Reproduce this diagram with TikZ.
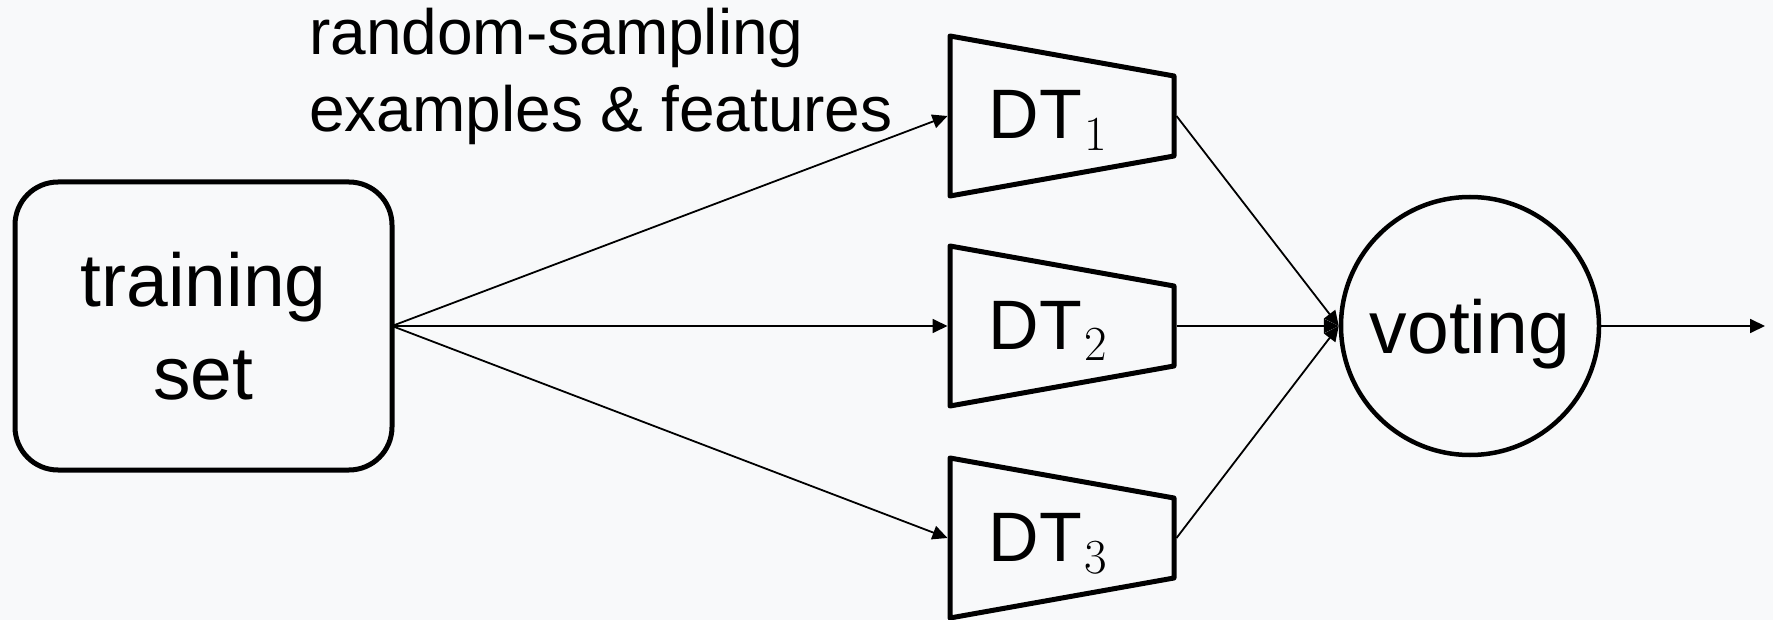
\documentclass[tikz,border=0pt]{standalone}
\usepackage{fontspec}
\setmainfont{Liberation Sans}
\newfontfamily\subdigits{Latin Modern Roman}
\usetikzlibrary{arrows.meta}
\definecolor{bgpaper}{RGB}{248,249,250}
% lowered serif index digit
\newcommand\treeindex[1]{\raisebox{-12pt}{\fontsize{49}{49}\selectfont\subdigits #1}}

\begin{document}
\begin{tikzpicture}[x=1pt,y=-1pt,
  bigtext/.style={font=\fontsize{75}{93}\selectfont},
  setbox/.style={draw, line width=5pt, rounded corners=43pt,
    minimum width=377pt, minimum height=288pt, inner sep=0pt, outer sep=0pt,
    align=center, bigtext},
  dtframe/.style={minimum width=224pt, minimum height=160pt,
    inner sep=0pt, outer sep=2.5pt},
  dtedge/.style={line width=5pt, line join=round},
  dtlabel/.style={font=\fontsize{70}{84}\selectfont, inner sep=0pt,
    text height=46pt, text depth=0pt},
  votenode/.style={draw, circle, line width=4.5pt, minimum size=258pt,
    inner sep=0pt, bigtext, text depth=0pt},
  notetext/.style={font=\fontsize{64}{77}\selectfont, align=left,
    inner sep=0pt, text depth=0pt},
  link/.style={line width=1.8pt, -{Triangle[length=15pt,width=14pt]}},
]
% page background
\fill[bgpaper] (0,0) rectangle (1773,620);
\useasboundingbox (0,0) rectangle (1773,620);

% input data set
\node[setbox] (train) at (203.5,326) {training\\set};

% decision trees: trapezoid frames with their labels
\foreach \i/\y in {1/116, 2/326, 3/538} {
  \node[dtframe] (dt\i) at (1062,\y) {};
  \draw[dtedge, shift={(dt\i.center)}]
    (-112,-80) -- (112,-40) -- (112,40) -- (-112,80) -- cycle;
  \node[dtlabel] (dt\i label) at ([xshift=-14pt]dt\i.center) {DT\kern3pt\treeindex{\i}};
}

% combiner
\node[votenode] (vote) at (1470,326) {voting};
\coordinate (result) at (1765,326);

% annotation of the sampling step
\node[notetext, anchor=south west] (sampling) at (309,132)
  {random-sampling\\examples \& features};

% connectors
\foreach \i in {1,2,3} {
  \draw[link] (train.east) -- (dt\i.west);
  \draw[link] (dt\i.east) -- (vote.west);
}
\draw[link] (vote.east) -- (result);
\end{tikzpicture}
\end{document}
